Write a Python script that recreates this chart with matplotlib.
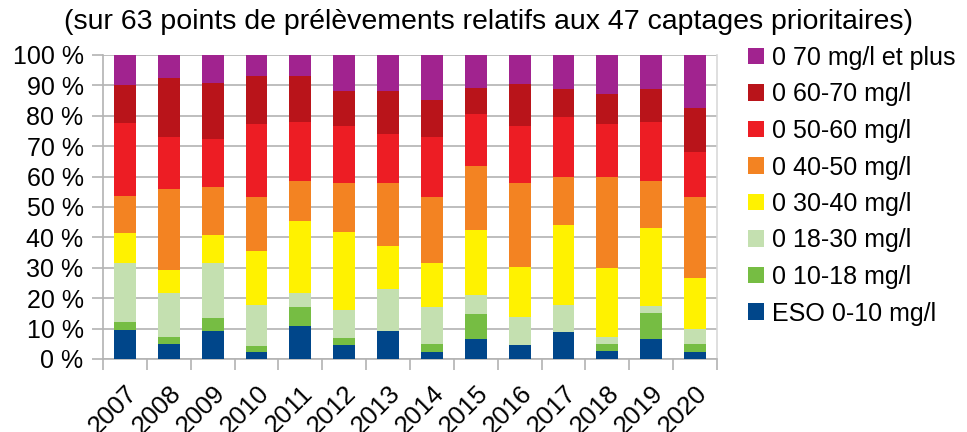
import matplotlib
matplotlib.use("Agg")
import matplotlib.pyplot as plt
import numpy as np

plt.rcParams['font.family'] = ['Liberation Sans', 'DejaVu Sans']

years = ['2007', '2008', '2009', '2010', '2011', '2012', '2013',
         '2014', '2015', '2016', '2017', '2018', '2019', '2020']

# percentages per class (bottom to top)
eso_0_10   = [9.5, 4.9, 9.2, 2.3, 10.9, 4.6, 9.2, 2.3, 6.6, 4.6, 8.9, 2.6, 6.6, 2.3]
c_10_18    = [2.6, 2.3, 4.3, 2.0, 6.2, 2.3, 0.0, 2.6, 8.2, 0.0, 0.0, 2.3, 8.5, 2.6]
c_18_30    = [19.4, 14.5, 18.1, 13.5, 4.6, 9.3, 13.8, 12.2, 6.3, 9.2, 8.9, 2.3, 2.3, 5.0]
c_30_40    = [9.9, 7.6, 9.2, 17.7, 23.7, 25.6, 14.2, 14.5, 21.3, 16.5, 26.3, 22.7, 25.7, 16.7]
c_40_50    = [12.2, 26.6, 15.8, 17.8, 13.2, 16.1, 20.7, 21.7, 21.1, 27.6, 15.8, 30.0, 15.5, 26.7]
c_50_60    = [24.0, 17.1, 15.8, 24.0, 19.4, 18.7, 16.1, 19.7, 17.1, 18.7, 19.7, 17.4, 19.4, 14.8]
c_60_70    = [12.5, 19.4, 18.4, 15.8, 15.1, 11.6, 14.2, 12.2, 8.5, 13.9, 9.2, 9.9, 10.8, 14.5]
c_70_plus  = [9.9, 7.6, 9.2, 6.9, 6.9, 11.8, 11.8, 14.8, 10.9, 9.5, 11.2, 12.8, 11.2, 17.4]

labels = ['ESO 0-10 mg/l', '0 10-18 mg/l', '0 18-30 mg/l', '0 30-40 mg/l',
          '0 40-50 mg/l', '0 50-60 mg/l', '0 60-70 mg/l', '0 70 mg/l et plus']
series = [eso_0_10, c_10_18, c_18_30, c_30_40, c_40_50, c_50_60, c_60_70, c_70_plus]
colors = ['#00468a', '#76bd43', '#c4e0b0', '#fff200', '#f38322', '#ed1d24', '#b9141a', '#a1238f']

title2 = '(sur 63 points de prélèvements relatifs aux 47 captages prioritaires)'

W, H = 967, 432
fig = plt.figure(figsize=(W / 100, H / 100), dpi=100)
ax = fig.add_axes([103 / W, 1 - 359 / H, (717 - 103) / W, (359 - 55) / H])

x = np.arange(len(years))
bottom = np.zeros(len(years))
handles = []
for vals, lab, col in zip(series, labels, colors):
    v = np.array(vals, dtype=float)
    h = ax.bar(x, v, 0.5, bottom=bottom, color=col, label=lab, linewidth=0, zorder=3)
    handles.append(h)
    bottom += v

grid_col = '#b3b3b3'
ax.set_xlim(-0.5, len(years) - 0.5)
ax.set_ylim(0, 100)
ax.set_yticks(np.arange(0, 101, 10))
ax.set_yticklabels([f'{t} %' for t in range(0, 101, 10)])
ax.yaxis.grid(True, color=grid_col, linewidth=1.2, zorder=0)
ax.set_axisbelow(True)

ax.set_xticks(x)
ax.set_xticklabels(years, rotation=45, ha='right', va='top', rotation_mode='anchor')
ax.set_xticks(np.arange(-0.5, len(years), 1), minor=True)
ax.tick_params(axis='x', which='major', length=0, pad=16, labelsize=18.5)
ax.tick_params(axis='x', which='minor', length=8, color=grid_col, width=1.2)
ax.tick_params(axis='y', which='major', length=8, color=grid_col, width=1.2, pad=6, labelsize=18)

for s in ['left', 'bottom', 'right']:
    ax.spines[s].set_color(grid_col)
    ax.spines[s].set_linewidth(1.2)
ax.spines['right'].set_color('#d9d9d9')
ax.spines['top'].set_visible(False)

fig.text(0.505, 1 - 22 / H, title2, ha='center', va='center', fontsize=20.5)

leg = fig.legend(handles[::-1], labels[::-1], loc='upper left',
                 bbox_to_anchor=(738 / W, 1 - 36 / H), frameon=False,
                 fontsize=18, handlelength=0.64, handleheight=0.64,
                 handletextpad=0.3, labelspacing=0.5, borderaxespad=0)

fig.savefig('out.png', dpi=100)
